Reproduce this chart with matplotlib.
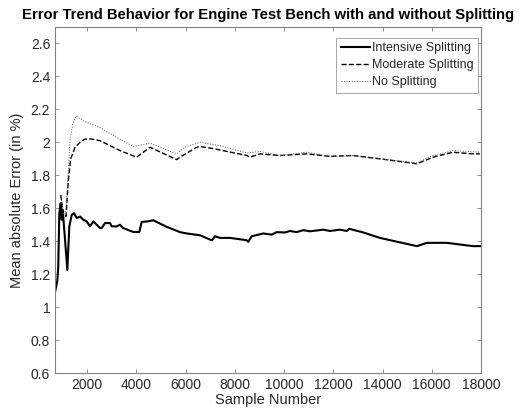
import matplotlib
matplotlib.use('Agg')
import matplotlib.pyplot as plt

plt.rcParams['font.family'] = ['Liberation Sans', 'DejaVu Sans']

# valeurs (numero d'echantillon, erreur moyenne en %)
samples_int = [700, 793, 830, 875, 931, 972, 1013, 1106, 1199, 1281, 1378, 1471, 1581, 1715,
               1849, 1987, 2121, 2255, 2393, 2527, 2596, 2730, 2933, 3002, 3205, 3339, 3461,
               3879, 4123, 4220, 4450, 4691, 5235, 5775, 6047, 6587, 6993, 7074, 7196, 7399,
               7805, 8483, 8548, 8686, 9157, 9498, 9701, 10038, 10241, 10513, 10781, 11053,
               11593, 11865, 12271, 12543, 12649, 13218, 13895, 15397, 15803,
               16615, 17671, 17955]
err_int = [1.09, 1.16, 1.24, 1.57, 1.63, 1.53, 1.59, 1.41, 1.225, 1.49, 1.56, 1.57, 1.54, 1.55,
           1.53, 1.52, 1.49, 1.52, 1.50, 1.48, 1.48, 1.51, 1.51, 1.49, 1.49, 1.50, 1.48,
           1.456, 1.456, 1.517, 1.52, 1.527, 1.487, 1.455, 1.447, 1.436, 1.41, 1.406, 1.43, 1.42,
           1.42, 1.406, 1.396, 1.43, 1.447, 1.44, 1.455, 1.453, 1.462, 1.455, 1.467, 1.46,
           1.47, 1.462, 1.47, 1.462, 1.475, 1.453, 1.42, 1.37, 1.39,
           1.39, 1.37, 1.37]

samples_mod = [931, 972, 1040, 1147, 1240, 1337, 1512, 1715, 1918, 2190, 2527, 2933, 3339,
               4017, 4557, 5641, 5775, 6453, 6587, 7196, 8495, 8617, 9020, 9820, 10920,
               11860, 12800, 13895, 15397, 16050, 16860, 17671, 17955]
err_mod = [1.68, 1.64, 1.56, 1.55, 1.77, 1.90, 1.97, 2.0, 2.02, 2.02, 2.01, 1.98, 1.95,
           1.91, 1.97, 1.895, 1.91, 1.97, 1.975, 1.96, 1.92, 1.91, 1.93, 1.92, 1.93,
           1.915, 1.92, 1.90, 1.87, 1.91, 1.94, 1.93, 1.93]

samples_no = [931, 972, 1040, 1147, 1309, 1419, 1553, 1849, 2527, 3205, 3879, 4557, 5641,
              5950, 6587, 7399, 8495, 9020, 9820, 10920, 11860, 12800, 13895, 15397,
              16050, 16860, 17955]
err_no = [1.68, 1.64, 1.56, 1.59, 2.01, 2.11, 2.16, 2.13, 2.09, 2.03, 1.975, 1.995, 1.93,
          1.97, 2.0, 1.98, 1.935, 1.945, 1.92, 1.94, 1.915, 1.92, 1.90, 1.875,
          1.92, 1.95, 1.94]

fig = plt.figure(figsize=(5.22, 4.15), dpi=100)
ax = fig.add_axes([0.1054, 0.1012, 0.8161, 0.8337])

ax.plot(samples_int, err_int, color='black', lw=1.5, ls='-', label='Intensive Splitting')
ax.plot(samples_mod, err_mod, color='black', lw=1.0, ls='--', label='Moderate Splitting')
ax.plot(samples_no, err_no, color='#555555', lw=0.7, ls=':', label='No Splitting')

ax.set_xlim(700, 18000)
ax.set_ylim(0.6, 2.7)
ax.set_xticks(range(2000, 18001, 2000))
ax.set_yticks([0.6, 0.8, 1, 1.2, 1.4, 1.6, 1.8, 2, 2.2, 2.4, 2.6])
ax.set_yticklabels(['0.6', '0.8', '1', '1.2', '1.4', '1.6', '1.8', '2', '2.2', '2.4', '2.6'])

grey = '#262626'
for s in ax.spines.values():
    s.set_color('#808080')
    s.set_linewidth(0.8)
ax.tick_params(direction='in', top=True, right=True, length=3, width=0.6,
               colors='#808080', labelcolor=grey, labelsize=10)

ax.set_xlabel('Sample Number', fontsize=10.5, color=grey, labelpad=1)
ax.set_ylabel('Mean absolute Error (in %)', fontsize=10.5, color=grey, labelpad=5)
ax.set_title('Error Trend Behavior for Engine Test Bench with and without Splitting',
             fontsize=10.7, fontweight='bold', pad=6)

leg = ax.legend(loc='upper right', bbox_to_anchor=(478 / 522, 1 - 38 / 415),
                bbox_transform=fig.transFigure, fontsize=9, frameon=True, fancybox=False,
                edgecolor='#808080', handlelength=2.3, handletextpad=0.2, borderpad=0.35,
                labelspacing=0.4, borderaxespad=0)
leg.get_frame().set_linewidth(0.6)
for t in leg.get_texts():
    t.set_color(grey)

fig.savefig('out.png', dpi=100)
